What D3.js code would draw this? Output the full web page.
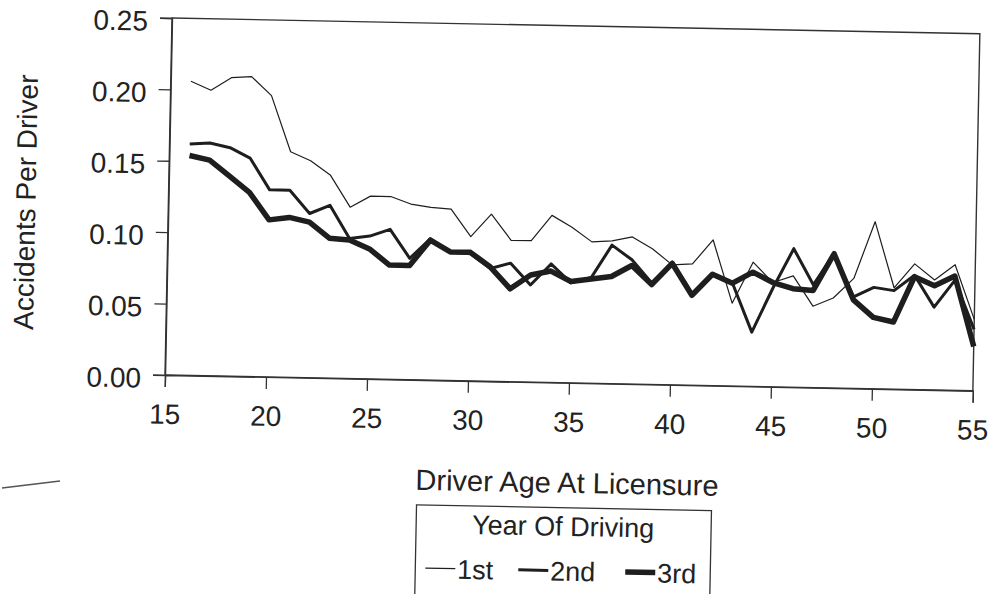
<!DOCTYPE html>
<html>
<head>
<meta charset="utf-8">
<script src="https://cdn.jsdelivr.net/npm/d3@7"></script>
<style>
  body { margin: 0; background: #fff; }
  svg { display: block; }
  text { font-family: "Liberation Sans", Arial, sans-serif; fill: #222; }
</style>
</head>
<body>
<svg width="990" height="594"></svg>
<script>
// ages 16..55
var ages = d3.range(16, 56);

var firstYear = [0.206, 0.200, 0.209, 0.210, 0.197, 0.158, 0.152, 0.142, 0.120, 0.128,
                 0.128, 0.123, 0.121, 0.120, 0.101, 0.117, 0.099, 0.099, 0.117, 0.109,
                 0.099, 0.100, 0.103, 0.095, 0.084, 0.085, 0.102, 0.058, 0.087, 0.073,
                 0.078, 0.057, 0.063, 0.077, 0.117, 0.071, 0.088, 0.077, 0.088, 0.050];
var secondYear = [0.162, 0.163, 0.160, 0.153, 0.131, 0.131, 0.115, 0.121, 0.098, 0.100,
                  0.105, 0.085, 0.099, 0.090, 0.089, 0.079, 0.083, 0.068, 0.083, 0.070,
                  0.074, 0.097, 0.087, 0.071, 0.086, 0.064, 0.078, 0.072, 0.038, 0.069,
                  0.097, 0.072, 0.094, 0.064, 0.071, 0.069, 0.080, 0.058, 0.077, 0.043];
var thirdYear = [0.154, 0.151, 0.140, 0.129, 0.110, 0.112, 0.109, 0.098, 0.097, 0.091,
                 0.080, 0.080, 0.098, 0.090, 0.090, 0.080, 0.065, 0.075, 0.078, 0.071,
                 0.073, 0.075, 0.083, 0.070, 0.085, 0.063, 0.078, 0.072, 0.080, 0.073,
                 0.069, 0.068, 0.094, 0.062, 0.050, 0.047, 0.079, 0.073, 0.080, 0.031];

var seriesNames = ["1st", "2nd", "3rd"];
var xTicks = [15, 20, 25, 30, 35, 40, 45, 50, 55];
var yTicks = [0, 0.05, 0.10, 0.15, 0.20, 0.25];

var svg = d3.select("svg");
var width = 808, height = 357;
var ink = "#1e1e1e";

// the scanned page sits slightly tilted
var g = svg.append("g")
    .attr("transform", "translate(172,18) rotate(1.12)");

var x = d3.scaleLinear().domain([15, 55]).range([0, width]);
var y = d3.scaleLinear().domain([0, 0.25]).range([height, 0]);

// frame
g.append("rect")
    .attr("width", width)
    .attr("height", height)
    .attr("fill", "none")
    .attr("stroke", "#333")
    .attr("stroke-width", 1.4);

var xAxis = g.append("g")
    .attr("transform", "translate(0," + height + ")")
    .call(d3.axisBottom(x).tickValues(xTicks).tickSize(12).tickPadding(17).tickFormat(d3.format("d")));
xAxis.selectAll("text").attr("font-size", 28).attr("fill", ink);

var yAxis = g.append("g")
    .call(d3.axisLeft(y).tickValues(yTicks).tickSize(12).tickPadding(12).tickFormat(d3.format(".2f")));
yAxis.selectAll("text").attr("font-size", 28).attr("fill", ink).attr("dy", "0.45em");

g.selectAll(".domain").attr("stroke", "#333").attr("stroke-width", 1.4);
g.selectAll(".tick line").attr("stroke", "#333").attr("stroke-width", 1.3);

// lines
var line = d3.line()
    .x(function(d, i) { return x(ages[i]); })
    .y(function(d) { return y(d); });

var widths = [1.2, 3, 5.5];
[firstYear, secondYear, thirdYear].forEach(function(s, i) {
  g.append("path")
    .datum(s)
    .attr("fill", "none")
    .attr("stroke", ink)
    .attr("stroke-width", widths[i])
    .attr("stroke-linejoin", "round")
    .attr("d", line);
});

// axis titles
g.append("text")
    .attr("transform", "translate(-133,187) rotate(-90)")
    .attr("text-anchor", "middle")
    .attr("font-size", 28)
    .text("Accidents Per Driver");

g.append("text")
    .attr("x", 404)
    .attr("y", 467)
    .attr("text-anchor", "middle")
    .attr("font-size", 29)
    .text("Driver Age At Licensure");

// legend
var lg = g.append("g").attr("transform", "translate(254,482)");
lg.append("rect")
    .attr("width", 295)
    .attr("height", 130)
    .attr("fill", "none")
    .attr("stroke", "#333")
    .attr("stroke-width", 1.3);
lg.append("text")
    .attr("x", 147)
    .attr("y", 28)
    .attr("text-anchor", "middle")
    .attr("font-size", 27)
    .text("Year Of Driving");

var itemX = [10, 103, 210];
seriesNames.forEach(function(name, i) {
  lg.append("line")
    .attr("x1", itemX[i])
    .attr("x2", itemX[i] + 30)
    .attr("y1", 63)
    .attr("y2", 63)
    .attr("stroke", ink)
    .attr("stroke-width", widths[i]);
  lg.append("text")
    .attr("x", itemX[i] + 32)
    .attr("y", 73)
    .attr("font-size", 27)
    .text(name);
});

// stray mark on the scan
svg.append("line")
    .attr("x1", 2).attr("y1", 488)
    .attr("x2", 60).attr("y2", 481)
    .attr("stroke", "#555")
    .attr("stroke-width", 1.5);
</script>
</body>
</html>
